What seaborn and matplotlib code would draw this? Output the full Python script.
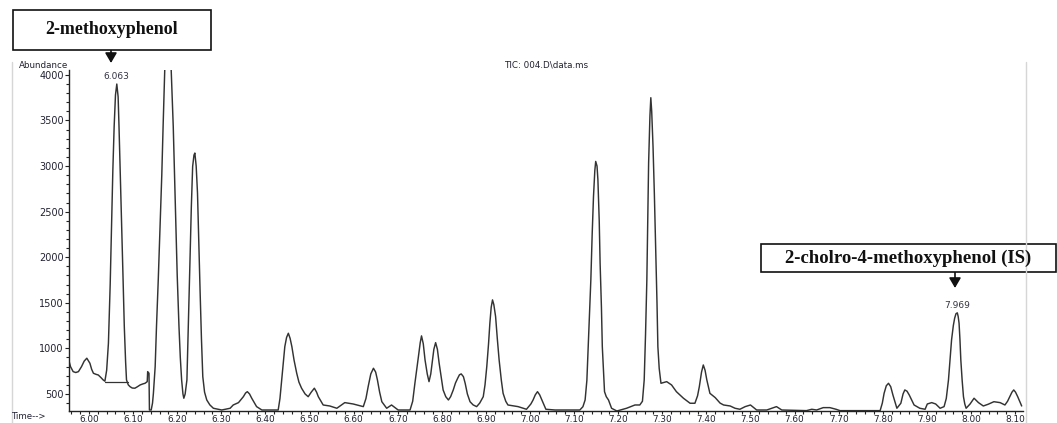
import matplotlib
matplotlib.use("Agg")
import matplotlib.pyplot as plt
from matplotlib.patches import Rectangle
from matplotlib.lines import Line2D
from matplotlib.ticker import MultipleLocator
import pandas as pd
import seaborn as sns

# ---- TIC trace: retention time (min) and abundance ----
time_min = [
    5.953, 5.958, 5.964, 5.970, 5.976, 5.983, 5.989, 5.995, 6.002, 6.006, 6.010, 6.016, 6.021, 6.027, 6.032, 6.036,
    6.040, 6.044, 6.048, 6.051, 6.054, 6.057, 6.060, 6.063, 6.066, 6.068, 6.071, 6.074, 6.077, 6.080, 6.083, 6.085,
    6.089, 6.093, 6.098, 6.104, 6.110, 6.116, 6.122, 6.127, 6.132, 6.133, 6.136, 6.137, 6.141,
    6.144, 6.146, 6.150, 6.153, 6.157, 6.161, 6.165, 6.168, 6.172, 6.176, 6.179, 6.182, 6.186, 6.191, 6.194, 6.197,
    6.200, 6.204, 6.207, 6.210, 6.213, 6.215, 6.218, 6.222,
    6.225, 6.229, 6.232, 6.235, 6.238, 6.240, 6.243, 6.246, 6.249, 6.252, 6.255, 6.258, 6.262, 6.267, 6.274, 6.282, 6.301,
    6.320, 6.327, 6.339, 6.350, 6.355, 6.359, 6.364, 6.369, 6.380, 6.392, 6.429,
    6.433, 6.437, 6.441, 6.444, 6.448, 6.452, 6.456, 6.460, 6.465, 6.471, 6.476, 6.482, 6.490, 6.497, 6.504, 6.511,
    6.516, 6.520, 6.531, 6.546, 6.562, 6.580, 6.599, 6.622,
    6.628, 6.633, 6.639, 6.645, 6.650, 6.654, 6.659, 6.664, 6.675, 6.686, 6.701, 6.728,
    6.734, 6.739, 6.743, 6.747, 6.751, 6.754, 6.758, 6.762, 6.767, 6.771, 6.775, 6.778, 6.782, 6.786, 6.790, 6.794,
    6.799, 6.803, 6.809, 6.815, 6.820, 6.826, 6.831, 6.836, 6.840, 6.844, 6.849, 6.853, 6.858, 6.864, 6.871, 6.879,
    6.886, 6.894, 6.898, 6.902, 6.906, 6.909, 6.912, 6.915, 6.918, 6.922, 6.926, 6.930, 6.935, 6.939,
    6.945, 6.950, 6.962, 6.973, 6.992, 7.002, 7.007, 7.012, 7.017, 7.022, 7.027, 7.036, 7.057, 7.113,
    7.120, 7.125, 7.129, 7.132, 7.135, 7.138, 7.141, 7.144, 7.147, 7.149, 7.152, 7.154, 7.157,
    7.159, 7.162, 7.164, 7.167, 7.169, 7.173, 7.178, 7.185, 7.197, 7.219, 7.238, 7.249,
    7.255, 7.259, 7.262, 7.265, 7.267, 7.269, 7.272, 7.274, 7.276, 7.279, 7.282, 7.285,
    7.288, 7.290, 7.293, 7.297, 7.303, 7.310, 7.321, 7.332, 7.348, 7.363, 7.374,
    7.380, 7.384, 7.389, 7.393, 7.397, 7.401, 7.408, 7.420, 7.431, 7.439, 7.454, 7.465, 7.476, 7.488, 7.500,
    7.514, 7.537, 7.559, 7.571,
    7.627, 7.639, 7.650, 7.665, 7.680, 7.694, 7.703, 7.794,
    7.799, 7.803, 7.808, 7.813, 7.818, 7.823, 7.832, 7.841, 7.846, 7.850, 7.855, 7.860, 7.871, 7.884, 7.896,
    7.901, 7.911, 7.920, 7.930, 7.939,
    7.944, 7.949, 7.953, 7.956, 7.960, 7.963, 7.966, 7.969, 7.971, 7.973, 7.975, 7.977, 7.980, 7.983, 7.986, 7.989,
    7.998, 8.007, 8.017, 8.028, 8.039, 8.052, 8.066, 8.077, 8.083, 8.088, 8.093, 8.097, 8.101, 8.106, 8.115,
]
abundance = [
    892, 800, 745, 735, 745, 800, 860, 892, 837, 770, 727, 715, 708, 680, 654, 640,
    760, 1057, 1700, 2337, 2950, 3435, 3780, 3900, 3760, 3435, 2900, 2337, 1800, 1239, 850, 654,
    600, 580, 565, 563, 580, 599, 610, 617, 635, 745, 727, 324, 324,
    400, 507, 800, 1239, 1750, 2337, 2900, 3435, 4100, 4700, 4900, 4700, 4100, 3435, 2900, 2337,
    1800, 1239, 900, 654, 500, 453, 500, 654,
    1200, 1971, 2550, 2996, 3120, 3143, 3000, 2704, 2150, 1606, 1100, 690, 520, 434, 380, 343, 324,
    343, 379, 405, 470, 510, 525, 500, 453, 361, 324, 324,
    450, 654, 850, 1019, 1120, 1166, 1110, 1019, 870, 727, 630, 563, 500, 470, 520, 563,
    520, 470, 379, 368, 343, 405, 390, 361,
    450, 580, 720, 782, 740, 654, 520, 415, 343, 379, 324, 324,
    420, 617, 760, 910, 1060, 1137, 1050, 873, 720, 635, 720, 837, 990, 1063, 990, 837,
    670, 544, 470, 434, 470, 544, 620, 672, 710, 720, 690, 617, 500, 415, 380, 361,
    400, 470, 600, 800, 1050, 1276, 1450, 1532, 1480, 1349, 1100, 873, 650, 507,
    420, 379, 370, 361, 332, 390, 434, 490, 525, 490, 434, 332, 324, 324,
    360, 434, 650, 1019, 1380, 1752, 2250, 2666, 2950, 3051, 3000, 2850, 2400,
    1935, 1450, 1019, 720, 525, 470, 434, 343, 313, 343, 379, 379,
    420, 654, 1150, 1752, 2400, 3033, 3550, 3750, 3600, 3215, 2700, 2117,
    1500, 1019, 780, 617, 625, 635, 599, 525, 453, 398, 398,
    480, 580, 740, 818, 760, 654, 507, 460, 400, 379, 368, 343, 332, 361, 379,
    324, 324, 361, 324,
    317, 332, 324, 350, 350, 332, 317, 317,
    400, 507, 590, 617, 580, 489, 343, 398, 500, 544, 530, 489, 379, 343, 332,
    390, 405, 390, 343, 361,
    450, 654, 900, 1093, 1250, 1331, 1380, 1390, 1350, 1276, 1100, 873, 650, 470, 390, 343,
    390, 453, 405, 368, 387, 415, 405, 379, 420, 470, 520, 544, 520, 470, 368,
]
assert len(time_min) == len(abundance)

# integration baseline drawn under the first labelled peak
baseline_time = [6.036, 6.088]
baseline_abund = [630, 630]

# labelled peaks
peak_rt = [6.063, 7.969]
peak_abund = [3900, 1390]
compound_names = ["2-methoxyphenol", "2-cholro-4-methoxyphenol (IS)"]

x_ticks = [round(6.0 + 0.1 * i, 2) for i in range(22)]
y_ticks = [500, 1000, 1500, 2000, 2500, 3000, 3500, 4000]

# ---- figure ----
W, H = 1057, 423
sns.set_style("ticks")
plt.rcParams["font.family"] = ["DejaVu Sans"]

fig = plt.figure(figsize=(W / 100, H / 100), dpi=100)
fig.patch.set_facecolor("white")


def fx(px):
    return px / W


def fy(py):
    return 1 - py / H


ax = fig.add_axes([fx(69), fy(411), (1023 - 69) / W, (411 - 70) / H])
ax.set_facecolor("none")

trace = pd.DataFrame({"time": time_min, "abundance": abundance})
line_color = "#333333"
sns.lineplot(data=trace, x="time", y="abundance", sort=False, estimator=None,
             color=line_color, linewidth=1.05, ax=ax)
sns.lineplot(x=baseline_time, y=baseline_abund, sort=False, estimator=None,
             color=line_color, linewidth=0.9, ax=ax)

ax.set_xlim(5.9546, 8.118)
ax.set_ylim(313, 4054)
ax.set_xticks(x_ticks)
ax.set_xticklabels([f"{t:.2f}" for t in x_ticks])
ax.xaxis.set_minor_locator(MultipleLocator(0.02))
ax.set_yticks(y_ticks)
ax.set_yticklabels([str(v) for v in y_ticks])
ax.yaxis.set_minor_locator(MultipleLocator(100))
ax.set_xlabel("")
ax.set_ylabel("")
for side in ("top", "right"):
    ax.spines[side].set_visible(False)
for side in ("left", "bottom"):
    ax.spines[side].set_color("#222222")
    ax.spines[side].set_linewidth(1.0)
ax.tick_params(axis="y", which="both", direction="out", length=3,
               width=0.8, color="#222222", labelsize=7, labelcolor="#222233", pad=0.8)
ax.tick_params(axis="x", which="both", direction="out", length=2.5,
               width=0.8, color="#222222", labelsize=6.4, labelcolor="#222233", pad=0.2)
ax.tick_params(axis="both", which="minor", length=2.0)

# retention-time labels above the marked peaks
for rt, ab in zip(peak_rt, peak_abund):
    ax.annotate(f"{rt:.3f}", xy=(rt, ab), xytext=(0, 2), textcoords="offset points",
                ha="center", va="bottom", fontsize=6.5, color="#333344")

# header texts of the chromatogram
fig.text(fx(68), fy(65), "Abundance", ha="right", va="center", fontsize=6.3, color="#222233")
fig.text(fx(12), fy(416), "Time-->", ha="left", va="center", fontsize=6.2, color="#222233")
fig.text(fx(546), fy(65), "TIC: 004.D\\data.ms", ha="center", va="center",
         fontsize=6.3, color="#222233")

# faint page frame
for xp in (12, 1026):
    fig.add_artist(Line2D([fx(xp), fx(xp)], [0, fy(62)], color="#d6d6d6", lw=1.0))

# compound boxes with arrows
boxes = [(13, 10, 211, 50, 13), (761, 244, 1056, 272, 13.5)]
arrow_x = [111, 955]
for (x0, y0, x1, y1, fs), name, axp in zip(boxes, compound_names, arrow_x):
    fig.add_artist(Rectangle((fx(x0), fy(y1)), (x1 - x0) / W, (y1 - y0) / H,
                             transform=fig.transFigure, facecolor="white",
                             edgecolor="#111111", linewidth=1.2))
    fig.text(fx((x0 + x1) / 2), fy((y0 + y1) / 2), name, ha="center", va="center",
             fontsize=fs, fontweight="bold", family="Liberation Serif", color="#111111")
    tip = y1 + (13 if axp < 500 else 16)
    ax.annotate("", xy=(fx(axp), fy(tip)), xytext=(fx(axp), fy(y1)),
                xycoords="figure fraction", textcoords="figure fraction",
                arrowprops=dict(arrowstyle="-|>,head_length=0.6,head_width=0.35",
                                color="#111111", lw=1.2, shrinkA=0, shrinkB=0),
                annotation_clip=False)

fig.savefig("out.png", dpi=100)
